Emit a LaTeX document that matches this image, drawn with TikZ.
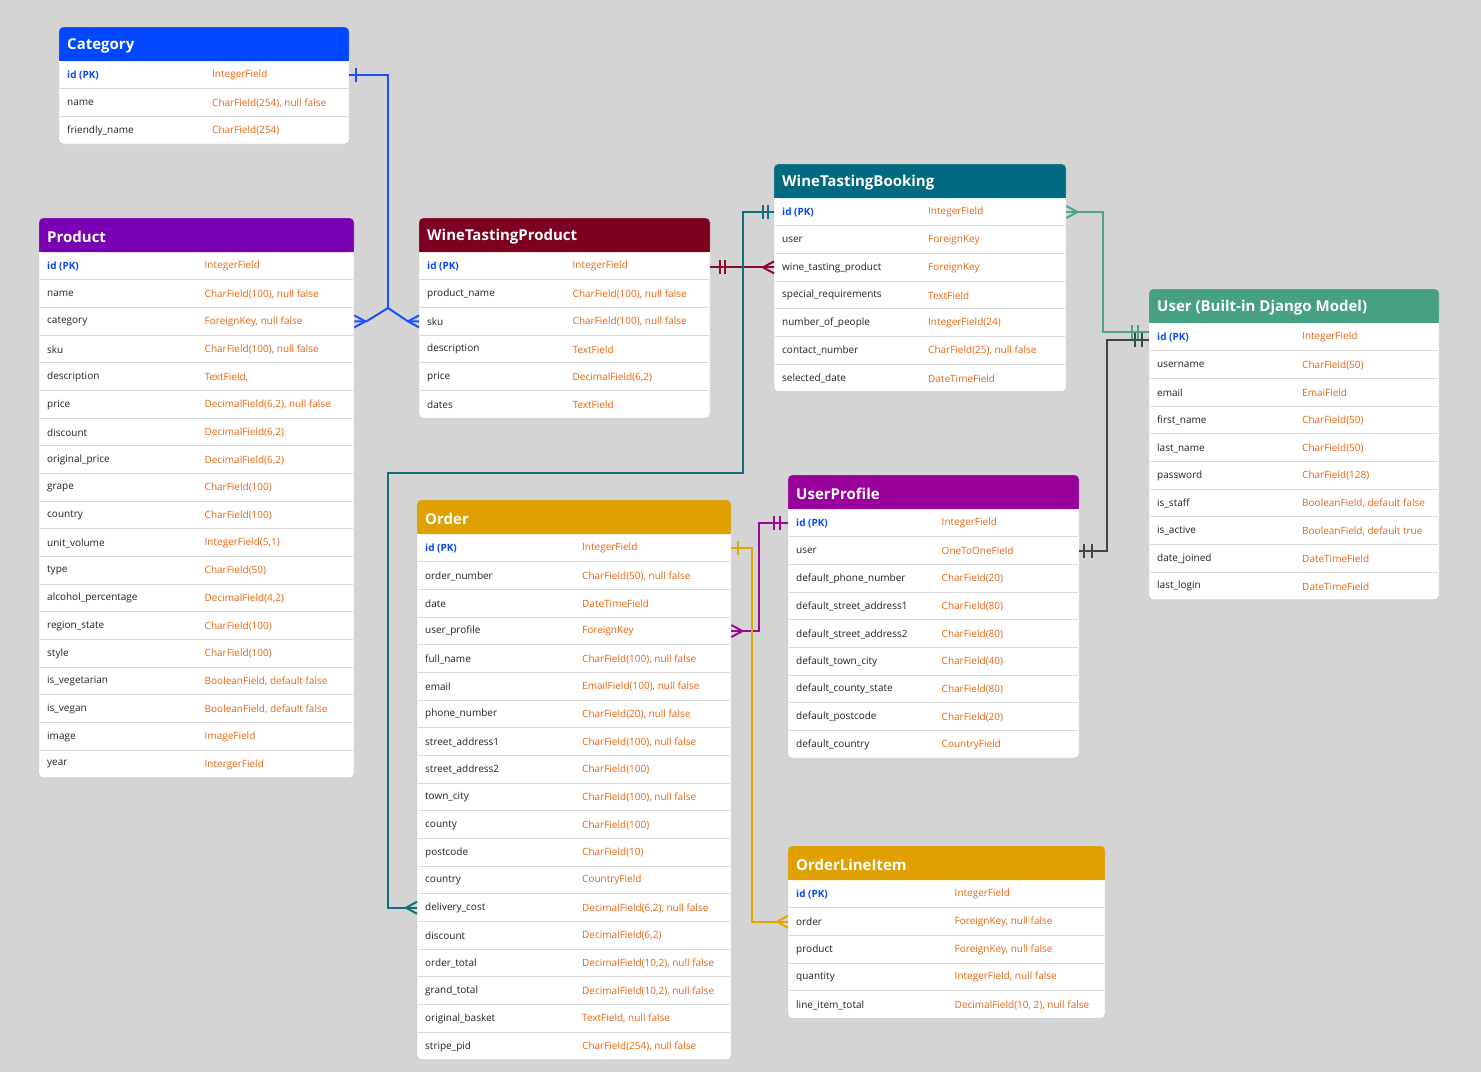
\documentclass[tikz,border=0pt]{standalone}
\usepackage{fontspec}
\setmainfont{Open Sans}
\usetikzlibrary{calc}
\definecolor{bg}{HTML}{D4D4D4}
\definecolor{bordc}{HTML}{C4C4C4}
\definecolor{sepc}{HTML}{DADADA}
\definecolor{fieldc}{HTML}{222222}
\definecolor{typec}{HTML}{E8650F}
\definecolor{pkc}{HTML}{0A47F0}
\definecolor{catc}{HTML}{0048FF}
\definecolor{prodc}{HTML}{7A00B4}
\definecolor{wtpc}{HTML}{7D0020}
\definecolor{wtbc}{HTML}{006B80}
\definecolor{usrc}{HTML}{46A084}
\definecolor{upfc}{HTML}{990099}
\definecolor{ordc}{HTML}{E0A100}
\definecolor{lblue}{HTML}{1A50FF}
\definecolor{lmaroon}{HTML}{8A0A2C}
\definecolor{lteal}{HTML}{10707F}
\definecolor{lgreen}{HTML}{4CA586}
\definecolor{lgray}{HTML}{454545}
\definecolor{lmag}{HTML}{9A0A90}
\definecolor{lorange}{HTML}{E2A600}
\tikzset{
  rowbox/.style={draw=none, inner sep=0pt, minimum height=27.67pt, anchor=north west},
  fieldtxt/.style={anchor=west, inner sep=0pt, text=fieldc, font=\fontsize{10}{12}\selectfont},
  typetxt/.style={anchor=west, inner sep=0pt, text=typec, font=\fontsize{10}{12}\selectfont},
  pktxt/.style={anchor=west, inner sep=0pt, text=pkc, font=\fontsize{10}{12}\selectfont\bfseries},
  headtxt/.style={anchor=west, inner sep=0pt, text=white, font=\fontsize{15}{18}\selectfont\bfseries},
  conn/.style={line width=2pt},
}
\newcommand\erdtable[7]{%
  \def\tn{#1}\def\tx{#2}\def\ty{#3}\def\tw{#4}%
  \fill[white, rounded corners=4pt] (#2,#3) rectangle ({#2+#4},{#3+34+#5*27.67});
  \fill[#6, rounded corners=4pt] (#2,#3) rectangle ({#2+#4},{#3+34});
  \fill[#6] (#2,{#3+17}) rectangle ({#2+#4},{#3+34});
  \node[headtxt] (#1) at ({#2+8},{#3+19}) {#7};
  \draw[bordc, rounded corners=4pt] (#2,#3) rectangle ({#2+#4},{#3+34+#5*27.67});
}
\newcommand\erdrow[3]{%
  \node[rowbox, minimum width=\tw pt] (\tn-#1) at (\tx,{\ty+34+(#1-1)*27.67}) {};
  \ifnum#1>1 \draw[sepc, line width=1pt] ($(\tn-#1.north west)+(1,0)$) -- ($(\tn-#1.north east)+(-1,0)$);\fi
  \ifnum#1=1
    \node[pktxt] (\tn-#1-f) at ({\tx+8},{\ty+34.5+(#1-0.5)*27.67}) {#2};
  \else
    \node[fieldtxt] (\tn-#1-f) at ({\tx+8},{\ty+34.5+(#1-0.5)*27.67}) {#2};
  \fi
  \node[typetxt] (\tn-#1-t) at ({\tx+\tw/2+8},{\ty+34.5+(#1-0.5)*27.67}) {#3};
}
% crow's foot: color, edge point, apex offset
\newcommand\crow[3]{\draw[conn,#1] ($(#2)+(#3,0)$) -- ($(#2)+(0,-6)$) ($(#2)+(#3,0)$) -- ($(#2)+(0,6)$);}
% bar: color, point, x offset
\newcommand\ebar[3]{\draw[conn,#1] ($(#2)+(#3,-7)$) -- ($(#2)+(#3,7)$);}
\begin{document}
\begin{tikzpicture}[x=1pt,y=-1pt]
\fill[bg] (0,0) rectangle (1481,1072);
\useasboundingbox (0,0) rectangle (1481,1072);

\erdtable{cat}{59}{27}{290}{3}{catc}{Category}
\erdrow{1}{id (PK)}{IntegerField}
\erdrow{2}{name}{CharField(254), null false}
\erdrow{3}{friendly\_name}{CharField(254)}

\erdtable{prod}{39}{218}{315}{19}{prodc}{Product}
\erdrow{1}{id (PK)}{IntegerField}
\erdrow{2}{name}{CharField(100), null false}
\erdrow{3}{category}{ForeignKey, null false}
\erdrow{4}{sku}{CharField(100), null false}
\erdrow{5}{description}{TextField,}
\erdrow{6}{price}{DecimalField(6,2), null false}
\erdrow{7}{discount}{DecimalField(6,2)}
\erdrow{8}{original\_price}{DecimalField(6,2)}
\erdrow{9}{grape}{CharField(100)}
\erdrow{10}{country}{CharField(100)}
\erdrow{11}{unit\_volume}{IntegerField(5,1)}
\erdrow{12}{type}{CharField(50)}
\erdrow{13}{alcohol\_percentage}{DecimalField(4,2)}
\erdrow{14}{region\_state}{CharField(100)}
\erdrow{15}{style}{CharField(100)}
\erdrow{16}{is\_vegetarian}{BooleanField, default false}
\erdrow{17}{is\_vegan}{BooleanField, default false}
\erdrow{18}{image}{ImageField}
\erdrow{19}{year}{IntergerField}

\erdtable{wtp}{419}{218}{291}{6}{wtpc}{WineTastingProduct}
\erdrow{1}{id (PK)}{IntegerField}
\erdrow{2}{product\_name}{CharField(100), null false}
\erdrow{3}{sku}{CharField(100), null false}
\erdrow{4}{description}{TextField}
\erdrow{5}{price}{DecimalField(6,2)}
\erdrow{6}{dates}{TextField}

\erdtable{wtb}{774}{164}{292}{7}{wtbc}{WineTastingBooking}
\erdrow{1}{id (PK)}{IntegerField}
\erdrow{2}{user}{ForeignKey}
\erdrow{3}{wine\_tasting\_product}{ForeignKey}
\erdrow{4}{special\_requirements}{TextField}
\erdrow{5}{number\_of\_people}{IntegerField(24)}
\erdrow{6}{contact\_number}{CharField(25), null false}
\erdrow{7}{selected\_date}{DateTimeField}

\erdtable{usr}{1149}{289}{290}{10}{usrc}{User (Built-in Django Model)}
\erdrow{1}{id (PK)}{IntegerField}
\erdrow{2}{username}{CharField(50)}
\erdrow{3}{email}{EmaiField}
\erdrow{4}{first\_name}{CharField(50)}
\erdrow{5}{last\_name}{CharField(50)}
\erdrow{6}{password}{CharField(128)}
\erdrow{7}{is\_staff}{BooleanField, default false}
\erdrow{8}{is\_active}{BooleanField, default true}
\erdrow{9}{date\_joined}{DateTimeField}
\erdrow{10}{last\_login}{DateTimeField}

\erdtable{upf}{788}{475}{291}{9}{upfc}{UserProfile}
\erdrow{1}{id (PK)}{IntegerField}
\erdrow{2}{user}{OneToOneField}
\erdrow{3}{default\_phone\_number}{CharField(20)}
\erdrow{4}{default\_street\_address1}{CharField(80)}
\erdrow{5}{default\_street\_address2}{CharField(80)}
\erdrow{6}{default\_town\_city}{CharField(40)}
\erdrow{7}{default\_county\_state}{CharField(80)}
\erdrow{8}{default\_postcode}{CharField(20)}
\erdrow{9}{default\_country}{CountryField}

\erdtable{ord}{417}{500}{314}{19}{ordc}{Order}
\erdrow{1}{id (PK)}{IntegerField}
\erdrow{2}{order\_number}{CharField(50), null false}
\erdrow{3}{date}{DateTimeField}
\erdrow{4}{user\_profile}{ForeignKey}
\erdrow{5}{full\_name}{CharField(100), null false}
\erdrow{6}{email}{EmailField(100), null false}
\erdrow{7}{phone\_number}{CharField(20), null false}
\erdrow{8}{street\_address1}{CharField(100), null false}
\erdrow{9}{street\_address2}{CharField(100)}
\erdrow{10}{town\_city}{CharField(100), null false}
\erdrow{11}{county}{CharField(100)}
\erdrow{12}{postcode}{CharField(10)}
\erdrow{13}{country}{CountryField}
\erdrow{14}{delivery\_cost}{DecimalField(6,2), null false}
\erdrow{15}{discount}{DecimalField(6,2)}
\erdrow{16}{order\_total}{DecimalField(10,2), null false}
\erdrow{17}{grand\_total}{DecimalField(10,2), null false}
\erdrow{18}{original\_basket}{TextField, null false}
\erdrow{19}{stripe\_pid}{CharField(254), null false}

\erdtable{oli}{788}{846}{317}{5}{ordc}{OrderLineItem}
\erdrow{1}{id (PK)}{IntegerField}
\erdrow{2}{order}{ForeignKey, null false}
\erdrow{3}{product}{ForeignKey, null false}
\erdrow{4}{quantity}{IntegerField, null false}
\erdrow{5}{line\_item\_total}{DecimalField(10, 2), null false}

% ---- connectors ----
% Category -> Product, WineTastingProduct
\coordinate (j1) at (388,308);
\draw[conn,lblue] (cat-1.east) -| (j1);
\draw[conn,lblue] (j1) -- ($(prod-3.east)+(12,0)$) -- (prod-3.east);
\draw[conn,lblue] (j1) -- ($(wtp-3.west)+(-11,0)$) -- (wtp-3.west);
\ebar{lblue}{cat-1.east}{7}
\crow{lblue}{prod-3.east}{11}
\crow{lblue}{wtp-3.west}{-11}

% WineTastingProduct -> WineTastingBooking
\coordinate (mr) at (wtp-1.east |- wtb-3.west);
\draw[conn,lmaroon] (mr) -- (wtb-3.west);
\ebar{lmaroon}{mr}{10}
\ebar{lmaroon}{mr}{15}
\crow{lmaroon}{wtb-3.west}{-11}

% WineTastingBooking -> Order
\coordinate (t1) at (743,473);
\coordinate (t2) at (388,473);
\draw[conn,lteal] (wtb-1.west) -| (t1) -- (t2) |- (ord-14.west);
\ebar{lteal}{wtb-1.west}{-11}
\ebar{lteal}{wtb-1.west}{-6}
\crow{lteal}{ord-14.west}{-11}

% User -> WineTastingBooking
\coordinate (g2) at ($(usr-1.west)+(0,-5)$);
\draw[conn,lgreen] (wtb-1.east) -| ($(g2)+(-46,0)$) -- (g2);
\crow{lgreen}{wtb-1.east}{11}
\ebar{lgreen}{g2}{-17}
\ebar{lgreen}{g2}{-11}

% User -> UserProfile
\coordinate (gy2) at ($(usr-1.west)+(0,3)$);
\draw[conn,lgray] (gy2) -- ($(gy2)+(-42,0)$) |- (upf-2.east);
\ebar{lgray}{gy2}{-14}
\ebar{lgray}{gy2}{-7}
\ebar{lgray}{upf-2.east}{5}
\ebar{lgray}{upf-2.east}{13}

% UserProfile -> Order
\coordinate (m1) at (759,580);
\draw[conn,lmag] (upf-1.west) -| (m1) |- (ord-4.east);
\ebar{lmag}{upf-1.west}{-14}
\ebar{lmag}{upf-1.west}{-8}
\crow{lmag}{ord-4.east}{11}

% Order -> OrderLineItem
\coordinate (o1) at (752,700);
\draw[conn,lorange] (ord-1.east) -| (o1) |- (oli-2.west);
\ebar{lorange}{ord-1.east}{7}
\crow{lorange}{oli-2.west}{-11}
\end{tikzpicture}
\end{document}
